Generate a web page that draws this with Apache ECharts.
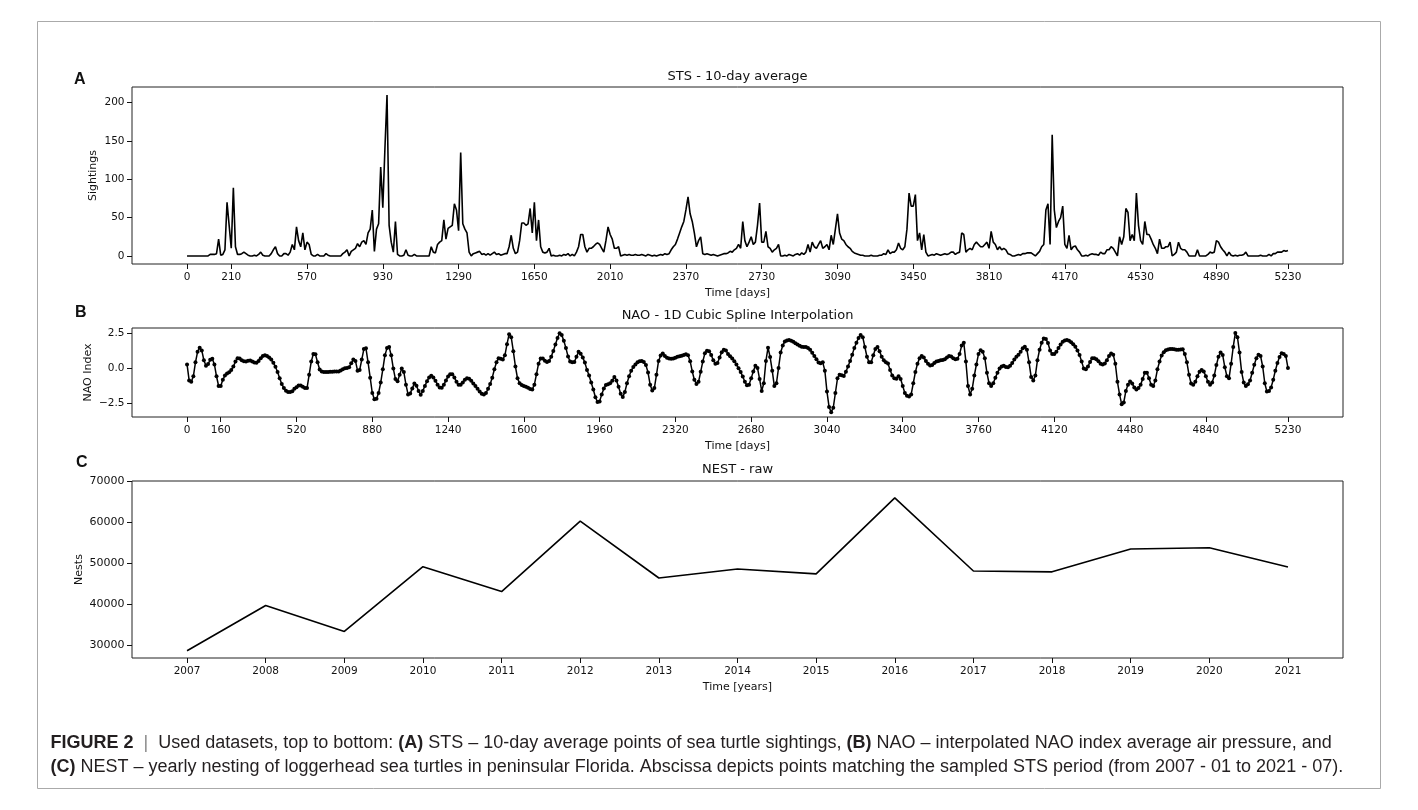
<!DOCTYPE html>
<html>
<head>
<meta charset="utf-8">
<script src="https://cdn.jsdelivr.net/npm/echarts@6/dist/echarts.min.js"></script>
<style>
html,body{margin:0;padding:0;background:#fff;}
#chart{width:1418px;height:810px;}
</style>
</head>
<body>
<div id="chart"></div>
<script>
// ---------------- DATA ----------------
// STS: 10-day average sightings, one value every 10 days from day 0 to day 5230
const stsValues = [
  0,0,0,0,0,0,0,0,0,0,
  0,2,2,2,3,22,1,2,8,70,
  40,10,89,12,2,2,3,5,3,1,
  0,0,1,0,2,5,1,0,0,0,
  3,8,12,3,0,0,3,3,1,5,
  15,8,38,20,12,30,8,18,15,2,
  0,0,2,0,0,0,3,1,0,0,
  0,0,0,0,3,5,8,0,6,8,
  10,16,12,18,20,15,30,35,60,6,
  35,42,116,63,140,210,40,18,5,45,
  2,0,0,1,8,1,0,0,2,0,
  0,0,0,0,0,0,12,5,4,15,
  18,20,47,22,36,38,40,68,60,33,
  135,42,35,30,5,0,3,4,5,6,
  2,3,1,3,1,3,5,2,3,1,
  2,3,3,12,27,10,3,5,20,43,
  43,40,42,62,30,70,20,47,12,5,
  4,5,10,0,1,0,0,1,0,2,
  1,3,0,2,0,5,12,28,28,12,
  5,10,10,12,15,17,15,10,5,20,
  38,28,22,10,10,12,0,1,2,1,
  2,1,1,2,1,1,2,1,0,2,
  1,0,1,0,1,2,1,3,2,3,
  8,12,15,22,30,38,45,60,77,55,
  45,30,12,20,25,3,2,3,2,1,
  2,1,0,1,2,3,3,4,6,5,
  8,10,15,10,45,20,12,18,25,15,
  18,40,69,18,18,32,12,10,5,8,
  10,15,0,0,1,0,2,1,0,2,
  3,1,4,2,5,15,5,18,12,10,
  15,20,10,12,15,8,27,15,35,55,
  30,22,20,15,12,10,6,4,3,2,
  1,1,0,0,0,1,0,0,0,1,
  1,3,2,8,3,5,5,8,17,10,
  8,12,35,82,65,65,80,20,30,8,
  28,5,0,1,2,1,3,2,1,2,
  3,2,3,5,5,2,4,5,30,28,
  5,8,10,8,15,18,15,12,12,15,
  18,10,32,18,15,8,12,8,10,8,
  3,2,0,0,1,2,1,3,3,4,
  4,4,2,0,3,6,12,15,60,68,
  15,158,60,37,45,50,65,15,10,27,
  8,12,13,8,5,0,0,1,0,2,
  3,2,2,1,5,3,3,8,8,12,
  10,5,0,25,15,25,62,57,20,28,
  20,82,40,20,15,45,28,28,22,15,
  10,3,22,10,10,12,12,18,0,2,
  5,18,10,8,8,5,0,0,0,0,
  8,0,0,0,0,2,5,4,5,20,
  18,12,8,5,0,5,1,0,1,0,
  1,1,2,5,0,0,0,0,0,0,
  1,0,0,0,2,0,3,3,5,5,
  5,7,6,7
];

// NAO: interpolated NAO index, one value every 10 days from day 0 to day 5230
const naoValues = [
  0.25,-0.9,-1.0,-0.6,0.4,1.15,1.45,1.25,0.55,0.15,
  0.28,0.58,0.65,0.25,-0.6,-1.3,-1.3,-0.85,-0.55,-0.4,
  -0.32,-0.15,0.1,0.45,0.7,0.67,0.55,0.47,0.45,0.52,
  0.53,0.46,0.38,0.37,0.5,0.7,0.85,0.9,0.85,0.75,
  0.6,0.37,0.08,-0.3,-0.75,-1.15,-1.45,-1.63,-1.73,-1.73,
  -1.68,-1.5,-1.38,-1.27,-1.27,-1.35,-1.44,-1.45,-0.5,0.45,
  1.0,0.97,0.4,-0.12,-0.25,-0.3,-0.3,-0.3,-0.28,-0.27,
  -0.26,-0.25,-0.25,-0.18,-0.1,-0.02,0.0,0.05,0.33,0.6,
  0.5,-0.2,-0.15,0.6,1.35,1.4,0.4,-0.7,-1.8,-2.25,
  -2.22,-1.8,-1.05,-0.1,0.9,1.42,1.5,0.9,-0.05,-0.8,
  -0.95,-0.5,-0.05,-0.3,-1.2,-1.9,-1.83,-1.47,-1.12,-1.28,
  -1.65,-1.93,-1.65,-1.3,-0.95,-0.68,-0.56,-0.68,-0.92,-1.2,
  -1.4,-1.42,-1.2,-0.9,-0.62,-0.45,-0.45,-0.68,-1.0,-1.2,
  -1.2,-1.04,-0.85,-0.75,-0.78,-0.93,-1.12,-1.3,-1.5,-1.7,
  -1.85,-1.9,-1.8,-1.5,-1.15,-0.7,-0.1,0.4,0.7,0.65,
  0.6,0.9,1.7,2.42,2.2,1.2,0.1,-0.75,-1.1,-1.22,
  -1.3,-1.35,-1.42,-1.52,-1.55,-1.2,-0.45,0.3,0.68,0.67,
  0.52,0.42,0.5,0.8,1.22,1.68,2.15,2.48,2.35,1.95,
  1.42,0.82,0.45,0.4,0.42,0.8,1.15,1.02,0.75,0.38,
  -0.15,-0.55,-1.05,-1.55,-2.1,-2.45,-2.4,-1.9,-1.48,-1.23,
  -1.18,-1.1,-0.92,-0.65,-0.9,-1.35,-1.85,-2.08,-1.72,-1.1,
  -0.6,-0.2,0.06,0.25,0.4,0.47,0.5,0.43,0.2,-0.33,
  -1.2,-1.62,-1.45,-0.5,0.5,0.88,1.03,0.85,0.73,0.67,
  0.65,0.68,0.73,0.8,0.83,0.87,0.93,0.98,0.9,0.48,
  -0.25,-0.85,-1.15,-1.0,-0.28,0.45,1.05,1.23,1.2,0.93,
  0.55,0.3,0.35,0.75,1.12,1.3,1.25,1.0,0.83,0.67,
  0.48,0.25,-0.02,-0.3,-0.62,-1.0,-1.25,-1.2,-0.75,-0.25,
  0.15,0.0,-0.8,-1.65,-1.1,0.5,1.45,0.78,-0.2,-1.3,
  -1.1,0.0,1.1,1.6,1.9,1.97,2.0,1.94,1.87,1.77,
  1.68,1.59,1.52,1.5,1.5,1.43,1.3,1.08,0.85,0.62,
  0.38,0.33,0.4,-0.2,-1.7,-2.8,-3.18,-2.85,-1.8,-0.75,
  -0.5,-0.53,-0.58,-0.28,0.1,0.5,0.95,1.42,1.8,2.15,
  2.35,2.2,1.5,0.8,0.4,0.4,0.9,1.35,1.5,1.2,
  0.8,0.55,0.4,0.32,-0.15,-0.55,-0.75,-0.78,-0.6,-0.8,
  -1.3,-1.8,-2.0,-2.05,-1.9,-1.1,-0.3,0.3,0.7,0.85,
  0.75,0.5,0.3,0.18,0.2,0.35,0.45,0.5,0.54,0.56,
  0.62,0.75,0.85,0.82,0.7,0.62,0.65,1.0,1.6,1.8,
  0.45,-1.3,-1.9,-1.5,-0.55,0.25,1.0,1.27,1.15,0.7,
  -0.35,-1.1,-1.3,-1.1,-0.7,-0.35,-0.05,0.1,0.15,0.07,
  0.05,0.15,0.35,0.6,0.8,0.95,1.15,1.4,1.52,1.3,
  0.4,-0.65,-0.9,-0.55,0.55,1.3,1.8,2.1,2.08,1.78,
  1.25,1.0,1.0,1.15,1.42,1.67,1.87,1.97,2.0,1.95,
  1.83,1.7,1.52,1.25,0.92,0.45,-0.05,-0.1,0.1,0.43,
  0.7,0.7,0.62,0.47,0.3,0.25,0.32,0.55,0.85,1.03,
  0.95,0.3,-1.0,-1.9,-2.6,-2.48,-1.65,-1.2,-0.98,-1.12,
  -1.4,-1.55,-1.45,-1.2,-0.8,-0.35,-0.35,-0.75,-1.2,-1.3,
  -0.9,-0.1,0.45,0.88,1.12,1.26,1.32,1.35,1.35,1.33,
  1.3,1.3,1.32,1.33,1.0,0.4,-0.5,-1.12,-1.2,-1.0,
  -0.6,-0.28,-0.15,-0.25,-0.6,-1.0,-1.2,-1.05,-0.55,0.2,
  0.8,1.1,0.92,0.05,-0.6,-0.75,0.3,1.5,2.5,2.2,
  1.1,-0.3,-1.05,-1.3,-1.18,-0.9,-0.35,0.22,0.7,0.95,
  0.85,0.1,-1.1,-1.7,-1.65,-1.4,-0.85,-0.2,0.35,0.78,
  1.05,1.0,0.85,0.0
];

// NEST: yearly loggerhead nests in peninsular Florida
const nestYears  = [2007,2008,2009,2010,2011,2012,2013,2014,2015,2016,2017,2018,2019,2020,2021];
const nestValues = [28700,39700,33400,49150,43100,60230,46400,48600,47400,65900,48100,47900,53450,53760,49080];

// Tick labels
const stsXTicks  = [0,210,570,930,1290,1650,2010,2370,2730,3090,3450,3810,4170,4530,4890,5230];
const naoXTicks  = [0,160,520,880,1240,1600,1960,2320,2680,3040,3400,3760,4120,4480,4840,5230];
const stsYTicks  = [0,50,100,150,200];
const naoYTicks  = [-2.5,0,2.5];
const nestYTicks = [30000,40000,50000,60000,70000];

// Sampling grid: one sample every 10 days
const SAMPLE_STEP = 10;
const stsDays = stsValues.map((_, i) => i * SAMPLE_STEP);
const naoDays = naoValues.map((_, i) => i * SAMPLE_STEP);

// ---------------- CHART ----------------
const chart = echarts.init(document.getElementById('chart'), null, {renderer: 'canvas'});

const FONT = 'DejaVu Sans';
const plain = v => String(v);
const tickLabel = (vals, fmt, size) => ({customValues: vals, formatter: fmt || plain,
  fontFamily: FONT, fontSize: size || 10.5, color: '#111', margin: 7.5});
const tickStyle = (vals) => ({show: true, inside: false, customValues: vals, length: 5,
  lineStyle: {color: '#111', width: 1}});
const nameStyle = {fontFamily: FONT, fontSize: 11, color: '#111'};
const noLine = {show: false, onZero: false};

const gridCommon = {left: 132, width: 1211, show: true, borderColor: '#222', borderWidth: 1,
  backgroundColor: 'transparent', containLabel: false};

function xAx(gi, min, max, ticks, name) {
  return {type: 'value', gridIndex: gi, min: min, max: max, position: 'bottom',
    axisLine: noLine, splitLine: {show: false},
    axisTick: tickStyle(ticks), axisLabel: tickLabel(ticks),
    name: name, nameLocation: 'middle', nameGap: 24, nameMoveOverlap: false, nameTextStyle: nameStyle};
}
function yAx(gi, min, max, ticks, name, gap, fmt, size) {
  return {type: 'value', gridIndex: gi, min: min, max: max, position: 'left',
    axisLine: noLine, splitLine: {show: false},
    axisTick: tickStyle(ticks), axisLabel: tickLabel(ticks, fmt, size),
    name: name, nameLocation: 'middle', nameGap: gap, nameMoveOverlap: false, nameTextStyle: nameStyle};
}

const option = {
  animation: false,
  backgroundColor: '#fff',
  grid: [
    Object.assign({top: 87, height: 177}, gridCommon),
    Object.assign({top: 328, height: 89}, gridCommon),
    Object.assign({top: 481, height: 177}, gridCommon)
  ],
  xAxis: [
    xAx(0, -261.5, 5491.5, stsXTicks, 'Time [days]'),
    xAx(1, -261.5, 5491.5, naoXTicks, 'Time [days]'),
    xAx(2, 2006.3, 2021.7, nestYears, 'Time [years]')
  ],
  yAxis: [
    yAx(0, -10.5, 220.5, stsYTicks, 'Sightings', 33),
    yAx(1, -3.52, 2.86, naoYTicks, 'NAO Index', 38,
        v => (v < 0 ? '\u2212' + Math.abs(v).toFixed(1) : v.toFixed(1))),
    yAx(2, 26945, 70000, nestYTicks, 'Nests', 47, null, 11)
  ],
  series: [
    {
      type: 'line', xAxisIndex: 0, yAxisIndex: 0,
      data: stsDays.map((d, i) => [d, stsValues[i]]),
      showSymbol: false, symbol: 'none',
      lineStyle: {color: '#000', width: 1.6}
    },
    {
      type: 'line', xAxisIndex: 1, yAxisIndex: 1,
      data: naoDays.map((d, i) => [d, naoValues[i]]),
      symbol: 'circle', symbolSize: 4, showSymbol: true,
      itemStyle: {color: '#000', borderWidth: 0},
      lineStyle: {color: '#000', width: 1.5}
    },
    {
      type: 'line', xAxisIndex: 2, yAxisIndex: 2,
      data: nestYears.map((y, i) => [y, nestValues[i]]),
      showSymbol: false, symbol: 'none',
      lineStyle: {color: '#000', width: 1.6}
    }
  ],
  graphic: [
    {type: 'rect', silent: true, shape: {x: 37.5, y: 21.5, width: 1343, height: 767},
     style: {fill: 'none', stroke: '#aaa', lineWidth: 1}},
    // Subplot titles
    {type: 'text', x: 737.5, y: 76.5, style: {text: 'STS - 10-day average', align: 'center', verticalAlign: 'middle',
      textAlign: 'center', textVerticalAlign: 'middle', fontFamily: FONT, fontSize: 13, fill: '#111'}},
    {type: 'text', x: 737.5, y: 316, style: {text: 'NAO - 1D Cubic Spline Interpolation', align: 'center', verticalAlign: 'middle',
      textAlign: 'center', textVerticalAlign: 'middle', fontFamily: FONT, fontSize: 13, fill: '#111'}},
    {type: 'text', x: 737.5, y: 470, style: {text: 'NEST - raw', align: 'center', verticalAlign: 'middle',
      textAlign: 'center', textVerticalAlign: 'middle', fontFamily: FONT, fontSize: 13, fill: '#111'}},
    // Panel letters
    {type: 'text', x: 74, y: 79.5, style: {text: 'A', verticalAlign: 'middle', textVerticalAlign: 'middle',
      fontFamily: 'Liberation Sans', fontWeight: 'bold', fontSize: 16, fill: '#111'}},
    {type: 'text', x: 75, y: 312.8, style: {text: 'B', verticalAlign: 'middle', textVerticalAlign: 'middle',
      fontFamily: 'Liberation Sans', fontWeight: 'bold', fontSize: 16, fill: '#111'}},
    {type: 'text', x: 76, y: 462.8, style: {text: 'C', verticalAlign: 'middle', textVerticalAlign: 'middle',
      fontFamily: 'Liberation Sans', fontWeight: 'bold', fontSize: 16, fill: '#111'}},
    // Caption
    {type: 'text', x: 50.5, y: 731, style: {
      text: '{b|FIGURE 2}  {s||}  Used datasets, top to bottom: {b|(A)} STS \u2013 10-day average points of sea turtle sightings, {b|(B)} NAO \u2013 interpolated NAO index average air pressure, and\n' +
            '{b|(C)} NEST \u2013 yearly nesting of loggerhead sea turtles in peninsular Florida. Abscissa depicts points matching the sampled STS period (from 2007 - 01 to 2021 - 07).',
      fontFamily: 'Liberation Sans', fontSize: 18, lineHeight: 24, fill: '#231f20',
      verticalAlign: 'top', textVerticalAlign: 'top',
      rich: {
        b: {fontFamily: 'Liberation Sans', fontWeight: 'bold', fontSize: 18, lineHeight: 24, fill: '#231f20', color: '#231f20'},
        s: {fontFamily: 'Liberation Sans', fontSize: 18, lineHeight: 24, fill: '#888', color: '#888'}
      }
    }}
  ]
};

chart.setOption(option);
</script>
</body>
</html>
